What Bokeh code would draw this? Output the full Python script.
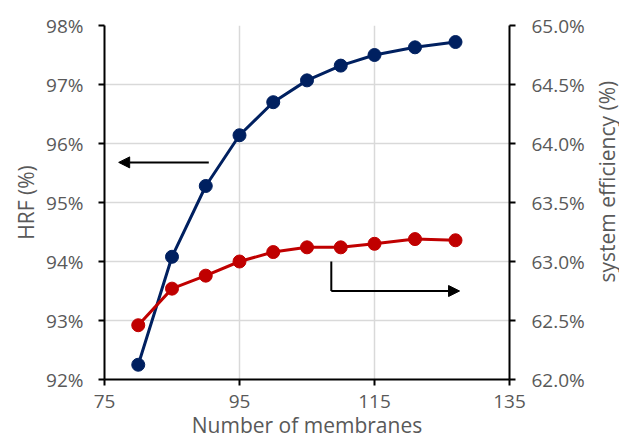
import math
from bokeh.plotting import figure
from bokeh.layouts import row
from bokeh.models import (Range1d, LinearAxis, FixedTicker, PrintfTickFormatter,
                          Arrow, NormalHead, ColumnDataSource)
from bokeh.core.properties import value
from bokeh.embed import file_html
from bokeh.resources import INLINE

# ---- data ----
membranes = [80, 85, 90, 95, 100, 105, 110, 115, 121, 127]
hrf_pct = [92.25, 94.08, 95.28, 96.14, 96.70, 97.07, 97.32, 97.50, 97.63, 97.72]
sys_eff_pct = [62.46, 62.77, 62.88, 63.00, 63.08, 63.12, 63.12, 63.15, 63.19, 63.18]

x_ticks = [75, 95, 115, 135]
hrf_ticks = [92, 93, 94, 95, 96, 97, 98]
eff_ticks = [62.0, 62.5, 63.0, 63.5, 64.0, 64.5, 65.0]

# annotation arrows (data coords: x, left-axis y)
left_arrow_x = [90.45, 77.1]
left_arrow_y = 95.68
right_arrow_x = [108.6, 127.6]
right_arrow_y = [94.0, 93.5]

BLUE = "#002060"
RED = "#C00000"
GRAY = "#595959"
FONT = "Open Sans"
TICK_FS = "19px"
LABEL_FS = "21px"

p = figure(frame_width=405, frame_height=354, output_backend="svg",
           toolbar_location=None,
           x_range=Range1d(75, 135), y_range=Range1d(92, 98),
           min_border_left=104, min_border_right=84, min_border_top=25,
           min_border_bottom=58)
p.extra_y_ranges = {"eff": Range1d(62.0, 65.0)}
p.outline_line_color = None
p.background_fill_color = "white"

def style(ax):
    ax.axis_line_color = "black"
    ax.axis_line_width = 2
    ax.major_tick_line_color = "black"
    ax.major_tick_line_width = 2
    ax.major_tick_in = 0
    ax.major_tick_out = 6
    ax.minor_tick_line_color = None
    ax.major_label_text_font = FONT
    ax.major_label_text_font_size = TICK_FS
    ax.major_label_text_color = GRAY
    ax.axis_label_text_font = FONT
    ax.axis_label_text_font_size = LABEL_FS
    ax.axis_label_text_color = GRAY
    ax.axis_label_text_font_style = "normal"

style(p.xaxis[0])
style(p.yaxis[0])

p.xaxis.ticker = FixedTicker(ticks=x_ticks)
p.xaxis.axis_label = "Number of membranes"
p.xaxis.major_label_standoff = 9
p.xaxis.axis_label_standoff = 0

p.yaxis.ticker = FixedTicker(ticks=hrf_ticks)
p.yaxis.formatter = PrintfTickFormatter(format="%d%%")
p.yaxis.axis_label = "HRF (%)"
p.yaxis.major_label_standoff = 15
p.yaxis.axis_label_standoff = 3

right = LinearAxis(y_range_name="eff", ticker=FixedTicker(ticks=eff_ticks),
                   formatter=PrintfTickFormatter(format="%.1f%%"))
style(right)
right.major_label_standoff = 16
p.add_layout(right, "right")

p.xgrid.ticker = FixedTicker(ticks=x_ticks)
p.xgrid.grid_line_color = "#d9d9d9"
p.xgrid.grid_line_width = 1.5
p.ygrid.grid_line_color = "#d9d9d9"
p.ygrid.grid_line_width = 1.5

# series
src_h = ColumnDataSource(dict(x=membranes, y=hrf_pct))
src_e = ColumnDataSource(dict(x=membranes, y=sys_eff_pct))
p.line("x", "y", source=src_h, line_color=BLUE, line_width=3)
p.scatter("x", "y", source=src_h, size=13, fill_color=BLUE, line_color=BLUE)
p.line("x", "y", source=src_e, line_color=RED, line_width=3, y_range_name="eff")
p.scatter("x", "y", source=src_e, size=13, fill_color=RED, line_color=RED,
          y_range_name="eff")

# arrows
p.add_layout(Arrow(x_start=left_arrow_x[0], y_start=left_arrow_y,
                   x_end=left_arrow_x[1], y_end=left_arrow_y,
                   line_color="black", line_width=2,
                   end=NormalHead(size=11, fill_color="black", line_color="black")))
p.segment(x0=[right_arrow_x[0]], y0=[right_arrow_y[0]],
          x1=[right_arrow_x[0]], y1=[right_arrow_y[1]],
          line_color="black", line_width=2)
p.add_layout(Arrow(x_start=right_arrow_x[0], y_start=right_arrow_y[1],
                   x_end=right_arrow_x[1], y_end=right_arrow_y[1],
                   line_color="black", line_width=2,
                   end=NormalHead(size=11, fill_color="black", line_color="black")))

# narrow side panel carrying the right-hand axis title (reads bottom-to-top)
p2 = figure(width=26, height=437, output_backend="svg", toolbar_location=None,
            x_range=Range1d(0, 1), y_range=Range1d(0, 437),
            x_axis_type=None, y_axis_type=None,
            min_border_left=0, min_border_right=0, min_border_top=0,
            min_border_bottom=0)
p2.outline_line_color = None
p2.grid.visible = False
p2.text(x=[0.5], y=[242], text=["system efficiency (%)"], angle=math.pi / 2,
        text_align="center", text_baseline="middle",
        text_font=value(FONT), text_font_size=LABEL_FS, text_color=GRAY)

layout = row(p, p2)
open("out.html", "w").write(file_html(layout, INLINE))
